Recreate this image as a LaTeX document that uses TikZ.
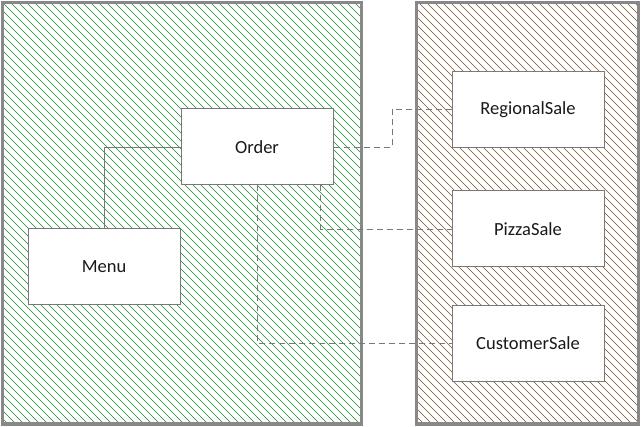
\documentclass[tikz,border=0pt]{standalone}
\usepackage{fontspec}
\setmainfont{Carlito}
\definecolor{hatchgreen}{RGB}{20,140,40}
\definecolor{hatchbrown}{RGB}{125,80,40}
\definecolor{frame}{RGB}{136,136,136}
\definecolor{boxline}{RGB}{120,120,120}
\definecolor{linkline}{RGB}{120,120,120}
\begin{document}
\begin{tikzpicture}[x=1pt,y=-1pt,
  container/.style={draw=frame,line width=3.5pt},
  hatch/.style={line width=0.45pt},
  entity/.style={draw=boxline,fill=white,line width=1pt,minimum width=152pt,minimum height=76pt,inner sep=0pt,font=\fontsize{18.5}{22}\selectfont,text=black!90},
  link/.style={draw=linkline,line width=0.9pt},
  dlink/.style={link,dash pattern=on 6pt off 4pt}]
\useasboundingbox (0,0) rectangle (641,427);
\fill[white] (0,0) rectangle (641,427);
\begin{scope}
\clip (2.5,2.5) rectangle (361.5,424);
\foreach \c in {-432,-424,...,640} \draw[hatch,hatchgreen] (\c,0) -- ++(430,430);
\end{scope}
\begin{scope}
\clip (416.5,2.5) rectangle (638.5,424);
\foreach \c in {-432,-424,...,640} \draw[hatch,hatchbrown] (\c,0) -- ++(430,430);
\end{scope}
\draw[container] (2.5,2.5) rectangle (361.5,424);
\draw[container] (416.5,2.5) rectangle (638.5,424);
\node[entity] (order) at (257,147) {Order};
\node[entity] (menu) at (104,267) {Menu};
\node[entity] (regional) at (528,109.5) {RegionalSale};
\node[entity] (pizza) at (528,229) {PizzaSale};
\node[entity] (customer) at (528,343.5) {CustomerSale};
\coordinate (c1) at (392,147);
\draw[link] (menu.north) |- (order.west);
\draw[dlink] (order.east) -- (c1) |- (regional.west);
\draw[dlink] ([xshift=63pt]order.south) |- (pizza.west);
\draw[dlink] (order.south) |- (customer.west);
\end{tikzpicture}
\end{document}
